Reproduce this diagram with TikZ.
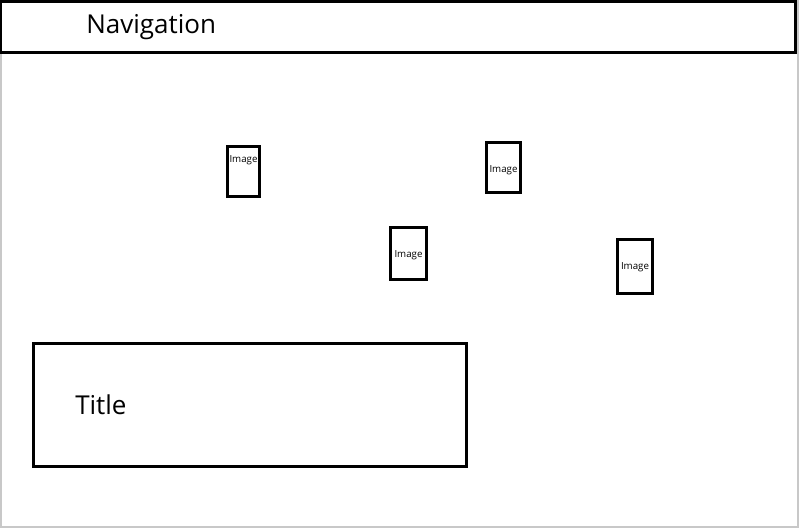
\documentclass[tikz,border=0pt]{standalone}
\usepackage{fontspec}
\setmainfont{Open Sans}
\definecolor{framegray}{RGB}{200,200,200}
\begin{document}
\begin{tikzpicture}[x=0.75pt,y=-0.75pt,
  box/.style={draw=black,line width=2.25pt},
  imgbox/.style={draw=black,line width=2.25pt},
  bigtext/.style={font=\fontsize{19.5}{24}\selectfont,anchor=base west,inner sep=0pt},
  smalltext/.style={font=\fontsize{7.3}{9}\selectfont,anchor=base,inner sep=0pt}]
\useasboundingbox (0,0) rectangle (799,528);
\fill[framegray] (0,0) rectangle (799,528);
\fill[white] (2,0) rectangle (797,526);
% navigation bar
\draw[box] (0.5,1.5) rectangle (795.5,52.5);
\node[bigtext] (nav) at (86,34) {Navigation};
% images
\draw[imgbox] (227.5,146.5) rectangle (259.5,196.5);
\node[smalltext] (img1) at (243.5,162.5) {Image};
\draw[imgbox] (486.5,142.5) rectangle (520.5,192.5);
\node[smalltext] (img2) at (503.5,172) {Image};
\draw[imgbox] (390.5,227.5) rectangle (426.5,279.5);
\node[smalltext] (img3) at (408.5,257.5) {Image};
\draw[imgbox] (617.5,239.5) rectangle (652.5,293.5);
\node[smalltext] (img4) at (635,269.5) {Image};
% title box
\draw[box] (33.5,343.5) rectangle (466.5,466.5);
\node[bigtext] (title) at (75,414) {Title};
\end{tikzpicture}
\end{document}
